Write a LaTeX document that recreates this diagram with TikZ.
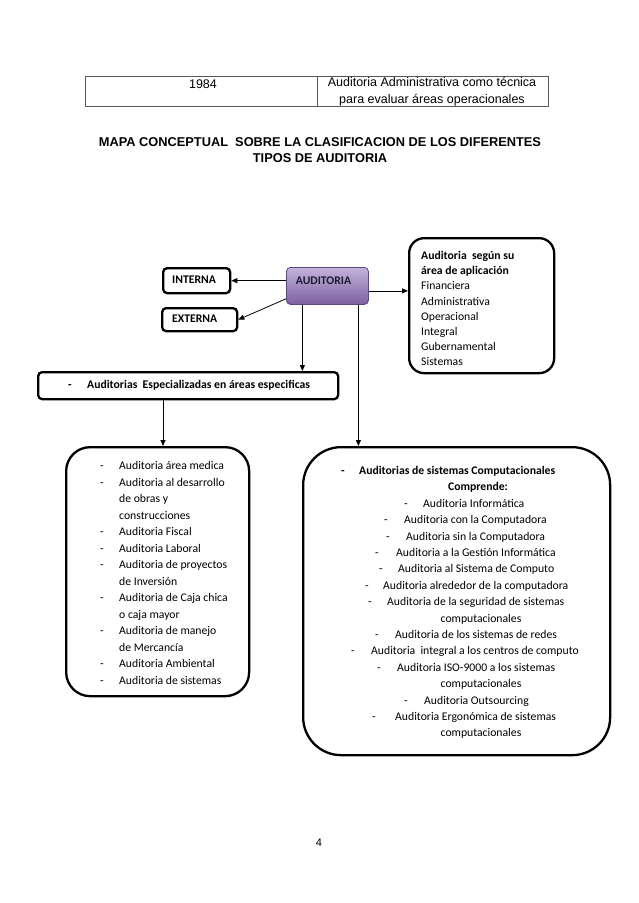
\documentclass[tikz,border=0pt]{standalone}
\usepackage{fontspec}
\setmainfont{Carlito}
\newfontfamily\arial{Liberation Sans}
\usetikzlibrary{arrows.meta}
\definecolor{audtop}{HTML}{C4B3DA}
\definecolor{audbot}{HTML}{7B60A0}
\definecolor{audline}{HTML}{5E4882}
\definecolor{audtext}{HTML}{1C1A33}
\begin{document}
\begin{tikzpicture}[x=1pt,y=-1pt,
  box/.style={draw=black, line width=2.3pt, anchor=north west, inner sep=0pt},
  arr/.style={-{Triangle[length=6pt,width=5pt]}, line width=0.8pt},
  bodyfont/.style={font=\fontsize{11.7}{13}\selectfont},
  boldfont/.style={font=\bfseries\fontsize{11.7}{13}\selectfont},
  ln/.style={bodyfont, inner sep=0pt, anchor=base west},
  lc/.style={bodyfont, inner sep=0pt, anchor=base},
  dsh/.style={bodyfont, inner sep=0pt, anchor=base}
]
\useasboundingbox (0,0) rectangle (638,903);
\fill[white] (0,0) rectangle (638,903);

% table
\node[draw=black!65, line width=0.7pt, anchor=north west, minimum width=463pt, minimum height=30pt, inner sep=0pt] (tab) at (85,76) {};
\draw[black!65, line width=0.7pt] (tab.north -| 317,0) -- (tab.south -| 317,0);
\node[font=\arial\fontsize{12.5}{15}\selectfont, inner sep=0pt] (yr) at (203,84) {1984};
\node[font=\arial\fontsize{12.5}{17}\selectfont, inner sep=0pt, align=center] (tdesc) at (432,91.5) {Auditoria Administrativa como técnica\\para evaluar áreas operacionales};

% title
\node[font=\arial\bfseries\fontsize{12.8}{16.5}\selectfont, inner sep=0pt, align=center] (title) at (320,150) {MAPA CONCEPTUAL\ \ SOBRE LA CLASIFICACION DE LOS DIFERENTES\\TIPOS DE AUDITORIA};

% central node
\node[anchor=north west, minimum width=82pt, minimum height=37pt, inner sep=0pt, rounded corners=4pt, top color=audtop, bottom color=audbot, draw=audline, line width=0.8pt] (aud) at (286,267) {};
\node[boldfont, text=audtext, inner sep=0pt] (audtxt) at (323.5,281) {AUDITORIA};

% interna / externa
\node[box, rounded corners=4pt, minimum width=67pt, minimum height=25pt] (int) at (162,267) {};
\node[boldfont, inner sep=0pt, anchor=west] (inttxt) at (172,279.5) {INTERNA};
\node[box, rounded corners=4pt, minimum width=75pt, minimum height=23pt] (ext) at (161,307) {};
\node[boldfont, inner sep=0pt, anchor=west] (exttxt) at (172,319) {EXTERNA};

% right top box
\node[box, rounded corners=15pt, minimum width=145pt, minimum height=135pt] (rtop) at (408,237) {};
\node[ln, boldfont] (r1) at (421,259.5) {Auditoria\ \ según su};
\node[ln, boldfont] (r2) at (421,274.7) {área de aplicación};
\node[ln] (r3) at (421,289.9) {Financiera};
\node[ln] (r4) at (421,305.1) {Administrativa};
\node[ln] (r5) at (421,320.3) {Operacional};
\node[ln] (r6) at (421,335.5) {Integral};
\node[ln] (r7) at (421,350.7) {Gubernamental};
\node[ln] (r8) at (421,365.9) {Sistemas};

% especializadas
\node[box, rounded corners=4pt, minimum width=300pt, minimum height=27pt] (esp) at (37,371) {};
\node[dsh, boldfont] (espd) at (70,388.5) {-};
\node[ln, boldfont] (esptxt) at (87,388.5) {Auditorias\ \ Especializadas en áreas especificas};

% left box
\node[box, rounded corners=24pt, minimum width=183pt, minimum height=249pt] (lbox) at (65,446) {};
\node[dsh] (d1) at (102,469.5) {-};  \node[ln] (t1) at (119,469.5) {Auditoria área medica};
\node[dsh] (d2) at (102,486.0) {-};  \node[ln] (t2) at (119,486.0) {Auditoria al desarrollo};
\node[ln] (t3) at (119,502.5) {de obras y};
\node[ln] (t4) at (119,519.0) {construcciones};
\node[dsh] (d5) at (102,535.5) {-};  \node[ln] (t5) at (119,535.5) {Auditoria Fiscal};
\node[dsh] (d6) at (102,552.0) {-};  \node[ln] (t6) at (119,552.0) {Auditoria Laboral};
\node[dsh] (d7) at (102,568.5) {-};  \node[ln] (t7) at (119,568.5) {Auditoria de proyectos};
\node[ln] (t8) at (119,585.0) {de Inversión};
\node[dsh] (d9) at (102,601.5) {-};  \node[ln] (t9) at (119,601.5) {Auditoria de Caja chica};
\node[ln] (t10) at (119,618.0) {o caja mayor};
\node[dsh] (d11) at (102,634.5) {-}; \node[ln] (t11) at (119,634.5) {Auditoria de manejo};
\node[ln] (t12) at (119,651.0) {de Mercancía};
\node[dsh] (d13) at (102,667.5) {-}; \node[ln] (t13) at (119,667.5) {Auditoria Ambiental};
\node[dsh] (d14) at (102,684.0) {-}; \node[ln] (t14) at (119,684.0) {Auditoria de sistemas};

% right big box
\node[box, rounded corners=38pt, minimum width=307pt, minimum height=308pt] (big) at (302,446) {};
\node[dsh, boldfont] (b0d) at (343,474.5) {-};
\node[ln, boldfont] (b0) at (359,474.5) {Auditorias de sistemas Computacionales};
\node[lc, boldfont] (b1) at (478,490.9) {Comprende:};
\node[dsh] (b2d) at (406,507.3) {-}; \node[ln] (b2) at (423,507.3) {Auditoria Informática};
\node[dsh] (b3d) at (386,523.7) {-}; \node[ln] (b3) at (404,523.7) {Auditoria con la Computadora};
\node[dsh] (b4d) at (388,540.1) {-}; \node[ln] (b4) at (406,540.1) {Auditoria sin la Computadora};
\node[dsh] (b5d) at (377,556.5) {-}; \node[ln] (b5) at (396,556.5) {Auditoria a la Gestión Informática};
\node[dsh] (b6d) at (381,572.9) {-}; \node[ln] (b6) at (398,572.9) {Auditoria al Sistema de Computo};
\node[dsh] (b7d) at (367,589.3) {-}; \node[ln] (b7) at (383,589.3) {Auditoria alrededor de la computadora};
\node[dsh] (b8d) at (370,605.7) {-}; \node[ln] (b8) at (387,605.7) {Auditoria de la seguridad de sistemas};
\node[lc] (b9) at (481,622.1) {computacionales};
\node[dsh] (b10d) at (377,638.5) {-}; \node[ln] (b10) at (395,638.5) {Auditoria de los sistemas de redes};
\node[dsh] (b11d) at (353,654.9) {-}; \node[ln] (b11) at (371,654.9) {Auditoria\ \ integral a los centros de computo};
\node[dsh] (b12d) at (379,671.3) {-}; \node[ln] (b12) at (397,671.3) {Auditoria ISO-9000 a los sistemas};
\node[lc] (b13) at (481,687.7) {computacionales};
\node[dsh] (b14d) at (406,704.1) {-}; \node[ln] (b14) at (424,704.1) {Auditoria Outsourcing};
\node[dsh] (b15d) at (374,720.5) {-}; \node[ln] (b15) at (395,720.5) {Auditoria Ergonómica de sistemas};
\begin{scope}
\clip (300,700) rectangle (620,738.5);
\node[lc] (b16) at (481,736.9) {computacionales};
\end{scope}

% connectors
\draw[arr] (aud.west |- int.east) -- (int.east);
\draw[arr] ([yshift=6pt]aud.south west) -- (ext.east);
\draw[arr] ([yshift=-5pt]aud.east) -- ([yshift=-5pt]aud.east -| rtop.west);
\draw[arr] ([xshift=-25pt]aud.south) -- ([xshift=-25pt]aud.south |- esp.north);
\draw[arr] ([xshift=31pt]aud.south) -- ([xshift=31pt]aud.south |- big.north);
\draw[arr] (esp.south -| 163,0) -- (lbox.north -| 163,0);

% page number
\node[font=\arial\fontsize{11}{13}\selectfont, inner sep=0pt] (pg) at (319,843) {4};
\end{tikzpicture}
\end{document}
